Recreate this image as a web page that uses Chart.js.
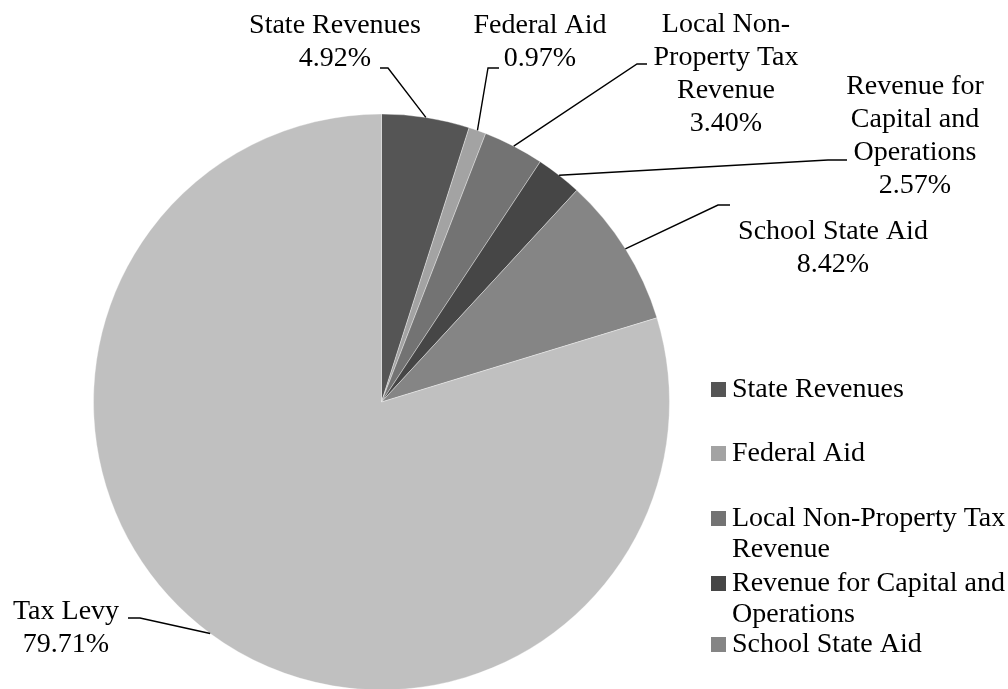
<!DOCTYPE html>
<html>
<head>
<meta charset="utf-8">
<script src="https://cdn.jsdelivr.net/npm/chart.js@4/dist/chart.umd.min.js"></script>
<style>
  html, body { margin: 0; padding: 0; background: #fff; overflow: hidden; }
  #pie-chart { display: block; }
</style>
</head>
<body>
<canvas id="pie-chart" width="1008" height="689"></canvas>
<script>
// revenue sources, clockwise from 12 o'clock
const categories = [
  'State Revenues',
  'Federal Aid',
  'Local Non-Property Tax Revenue',
  'Revenue for Capital and Operations',
  'School State Aid',
  'Tax Levy'
];
const shares = [4.92, 0.97, 3.4, 2.57, 8.42, 79.71];
const sliceColors = ['#555555', '#a3a3a3', '#737373', '#464646', '#858585', '#c0c0c0'];

// how the names break onto lines next to the slices and in the legend
const calloutLines = [
  ['State Revenues'],
  ['Federal Aid'],
  ['Local Non-', 'Property Tax', 'Revenue'],
  ['Revenue for', 'Capital and', 'Operations'],
  ['School State Aid'],
  ['Tax Levy']
];
const legendLines = [
  ['State Revenues'],
  ['Federal Aid'],
  ['Local Non-Property Tax', 'Revenue'],
  ['Revenue for Capital and', 'Operations'],
  ['School State Aid']
];

const FONT = '28px "Liberation Serif", "Times New Roman", serif';

// callout placement: text centre, first baseline, elbow of leader, end of the short stub
const callouts = [
  { cx: 335, y: 33, elbow: [388, 68], stub: [380, 68] },
  { cx: 540, y: 33, elbow: [488, 68], stub: [499, 68] },
  { cx: 726, y: 32, elbow: [637, 64], stub: [647, 64] },
  { cx: 915, y: 94, elbow: [828, 160], stub: [847, 160] },
  { cx: 833, y: 239, elbow: [718, 205], stub: [730, 205] },
  { cx: 66, y: 619, elbow: [140, 618], stub: [128, 618] }
];

const calloutPlugin = {
  id: 'callouts',
  afterDatasetsDraw(chart) {
    const ctx = chart.ctx;
    const arcs = chart.getDatasetMeta(0).data;
    ctx.save();
    ctx.font = FONT;
    ctx.fillStyle = '#000';
    ctx.strokeStyle = '#000';
    ctx.lineWidth = 1.4;
    ctx.textAlign = 'center';
    ctx.textBaseline = 'alphabetic';
    arcs.forEach(function(arc, i) {
      const c = callouts[i];
      const p = arc.getProps(['x', 'y', 'startAngle', 'endAngle', 'outerRadius'], true);
      const mid = (p.startAngle + p.endAngle) / 2;
      const ex = p.x + Math.cos(mid) * p.outerRadius;
      const ey = p.y + Math.sin(mid) * p.outerRadius;
      ctx.beginPath();
      ctx.moveTo(c.stub[0], c.stub[1]);
      ctx.lineTo(c.elbow[0], c.elbow[1]);
      ctx.lineTo(ex, ey);
      ctx.stroke();

      const lines = calloutLines[i].concat([shares[i].toFixed(2) + '%']);
      lines.forEach(function(txt, k) {
        ctx.fillText(txt, c.cx, c.y + k * 33);
      });
    });
    ctx.restore();
  }
};

// legend on the right, only five entries fit before the bottom edge
const legendBaselines = [397, 461, 526, 591, 652];
const legendPlugin = {
  id: 'sideLegend',
  afterDraw(chart) {
    const ctx = chart.ctx;
    ctx.save();
    ctx.font = FONT;
    ctx.textAlign = 'left';
    ctx.textBaseline = 'alphabetic';
    legendLines.forEach(function(lines, i) {
      const base = legendBaselines[i];
      ctx.fillStyle = sliceColors[i];
      ctx.fillRect(711, base - 15, 15, 15);
      ctx.fillStyle = '#000';
      lines.forEach(function(txt, k) {
        ctx.fillText(txt, 732, base + k * 31);
      });
    });
    ctx.restore();
  }
};

function setupPieChart() {
  new Chart(document.getElementById('pie-chart'), {
    type: 'pie',
    data: {
      labels: categories,
      datasets: [
        {
          data: shares,
          backgroundColor: sliceColors,
          borderColor: 'rgba(255,255,255,0.35)',
          borderWidth: 1,
          hoverOffset: 0
        }
      ]
    },
    options: {
      responsive: false,
      animation: false,
      devicePixelRatio: 1,
      radius: 288,
      layout: {
        padding: { left: 0, right: 245, top: 115, bottom: 0 }
      },
      plugins: {
        legend: { display: false },
        tooltip: { enabled: false }
      }
    },
    plugins: [calloutPlugin, legendPlugin]
  });
}

setupPieChart();
</script>
</body>
</html>
